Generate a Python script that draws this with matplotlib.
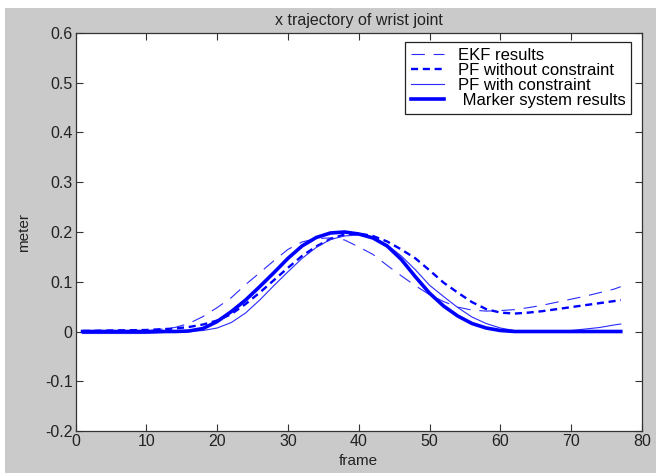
import matplotlib
matplotlib.use("Agg")
import matplotlib.pyplot as plt
from matplotlib.patches import Rectangle

# frame numbers shared by all four curves
frames = [1, 5, 10, 14, 16, 18, 20, 22, 24, 26, 28, 30, 32, 34, 36, 38, 40, 42, 44,
          46, 48, 50, 52, 54, 56, 58, 60, 62, 64, 66, 68, 70, 72, 74, 76, 77]

ekf = [-0.002, -0.001, 0.001, 0.008, 0.016, 0.030, 0.048, 0.068, 0.094, 0.118, 0.142,
       0.165, 0.180, 0.187, 0.188, 0.184, 0.170, 0.155, 0.133, 0.112, 0.092, 0.074,
       0.060, 0.049, 0.043, 0.041, 0.042, 0.044, 0.048, 0.053, 0.059, 0.065, 0.071,
       0.078, 0.085, 0.090]

pf_free = [0.001, 0.002, 0.003, 0.006, 0.009, 0.014, 0.022, 0.035, 0.055, 0.078, 0.103,
           0.128, 0.152, 0.171, 0.186, 0.195, 0.197, 0.192, 0.181, 0.165, 0.147, 0.123,
           0.098, 0.078, 0.059, 0.045, 0.038, 0.036, 0.038, 0.041, 0.045, 0.049, 0.053,
           0.057, 0.061, 0.063]

pf_constr = [-0.004, -0.004, -0.004, -0.001, 0.000, 0.002, 0.007, 0.018, 0.037, 0.063,
             0.092, 0.120, 0.147, 0.169, 0.185, 0.192, 0.194, 0.188, 0.174, 0.152, 0.124,
             0.093, 0.070, 0.048, 0.029, 0.016, 0.007, 0.002, 0.000, 0.000, 0.001, 0.002,
             0.005, 0.008, 0.013, 0.015]

marker = [0.000, 0.000, 0.000, 0.000, 0.001, 0.006, 0.020, 0.040, 0.063, 0.090, 0.118,
          0.147, 0.172, 0.189, 0.198, 0.200, 0.196, 0.188, 0.172, 0.145, 0.110, 0.077,
          0.051, 0.031, 0.016, 0.007, 0.002, 0.000, 0.000, 0.000, 0.000, 0.000, 0.000,
          0.000, 0.000, 0.000]

x_ticks = [0, 10, 20, 30, 40, 50, 60, 70, 80]
y_ticks = [-0.2, -0.1, 0, 0.1, 0.2, 0.3, 0.4, 0.5, 0.6]

plt.rcParams["font.family"] = ["Liberation Sans", "DejaVu Sans"]
plt.rcParams["font.size"] = 11

fig = plt.figure(figsize=(6.56, 4.73), dpi=100, facecolor="white")
# grey matlab-style window background with a thin white margin top/left
fig.patches.append(Rectangle((5 / 656, 0), 1, (473 - 8) / 473, transform=fig.transFigure,
                             facecolor="#cacaca", edgecolor="none", zorder=-10))

ax = fig.add_axes([75.5 / 656, (473 - 431) / 473, 566.5 / 656, 398 / 473])
ax.set_facecolor("white")

blue = "#0000ff"
thin_blue = "#2a2aff"
ax.plot(frames, ekf, color=thin_blue, lw=0.8, dashes=(12, 8), label="EKF results")
ax.plot(frames, pf_free, color=blue, lw=1.7, dashes=(3, 2), label="PF without constraint")
ax.plot(frames, pf_constr, color=thin_blue, lw=0.8, label="PF with constraint")
ax.plot(frames, marker, color=blue, lw=2.6, label=" Marker system results")

ax.set_xlim(0, 80)
ax.set_ylim(-0.2, 0.6)
ax.set_xticks(x_ticks)
ax.set_xticklabels([str(t) for t in x_ticks])
ax.set_yticks(y_ticks)
ax.set_yticklabels(["-0.2", "-0.1", "0", "0.1", "0.2", "0.3", "0.4", "0.5", "0.6"])
ax.tick_params(direction="in", length=5, width=0.8, top=True, right=True,
               colors="#333333", labelcolor="#222222", labelsize=11.5, pad=2)
for s in ax.spines.values():
    s.set_color("#333333")
    s.set_linewidth(0.9)

ax.set_title("x trajectory of wrist joint", fontsize=11.5, color="#222222", pad=6)
ax.set_xlabel("frame", fontsize=11, color="#222222", labelpad=4)
ax.set_ylabel("meter", fontsize=11, color="#222222", labelpad=10)

leg = ax.legend(loc="upper right", bbox_to_anchor=(0.981, 0.977), borderaxespad=0,
                fontsize=12, handlelength=2.0, handletextpad=0.8, labelspacing=0.0,
                borderpad=0.35, fancybox=False, framealpha=1)
leg.get_frame().set_edgecolor("#222222")
leg.get_frame().set_linewidth(0.9)

fig.savefig("out.png", dpi=100, facecolor=fig.get_facecolor())
plt.close(fig)
